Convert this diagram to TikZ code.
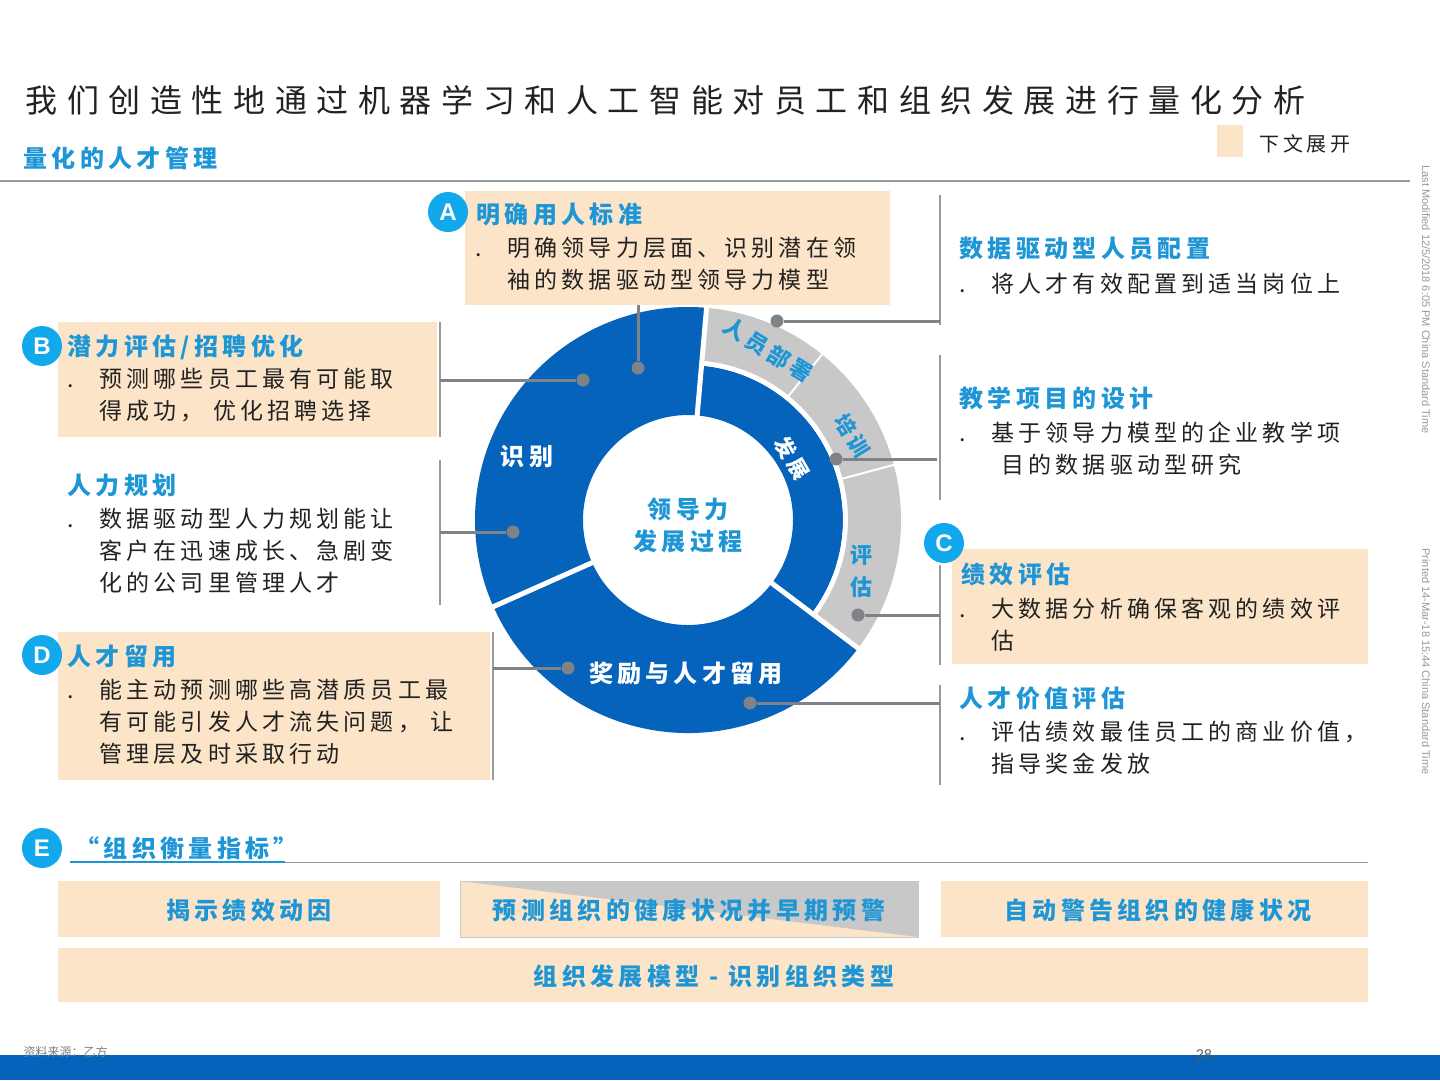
\documentclass[tikz,border=0pt]{standalone}
\usepackage{fontspec}
\setmainfont{Liberation Sans}
\newfontfamily\cjk[LetterSpace=18]{Noto Sans CJK SC}
\newfontfamily\cjkt[LetterSpace=30]{Noto Sans CJK SC}
\newfontfamily\cjkn{Noto Sans CJK SC}
\newcommand{\bul}{\makebox[32pt][l]{.}}
\newcommand{\ind}{\hspace*{32pt}}
\begin{document}
\begin{tikzpicture}[x=1pt,y=-1pt,
  hdr/.style={anchor=west,text=headc,font=\cjk\fontsize{24}{28}\selectfont\bfseries},
  body/.style={anchor=north west,align=left,text=bodyc,font=\cjk\fontsize{23}{32}\selectfont},
  badge/.style={circle,fill=badgec,text=white,minimum size=40pt,inner sep=0pt,font=\bfseries\fontsize{24}{24}\selectfont},
  bar/.style={draw=barc,line width=1.5pt},
  conn/.style={draw=linec,line width=3pt},
  pt/.style={circle,fill=linec,minimum size=13pt,inner sep=0pt},
  btxt/.style={text=headc,font=\cjk\fontsize{24}{28}\selectfont\bfseries}]
\definecolor{peachc}{HTML}{FCE4C8}
\definecolor{headc}{HTML}{1E96D6}
\definecolor{bodyc}{HTML}{222222}
\definecolor{badgec}{HTML}{12A8EC}
\definecolor{barc}{HTML}{9A9A9A}
\definecolor{linec}{HTML}{7F8287}
\definecolor{ringb}{HTML}{0563BB}
\definecolor{ringg}{HTML}{C8C8C8}
\useasboundingbox (0,0) rectangle (1440,1080);
\fill[white] (0,0) rectangle (1440,1080);
% title
\node[anchor=west,text=bodyc,font=\cjkt\fontsize{32}{36}\selectfont] (title) at (22,100) {我们创造性地通过机器学习和人工智能对员工和组织发展进行量化分析};
\node[anchor=west,text=headc,font=\cjk\fontsize{24}{28}\selectfont\bfseries] (sub) at (20,158) {量化的人才管理};
\fill[peachc] (1217,125) rectangle (1243,157);
\node[anchor=west,text=bodyc,font=\cjk\fontsize{20}{24}\selectfont] (leg) at (1256,144) {下文展开};
\draw[barc,line width=1.2pt] (0,181) -- (1410,181);
% side texts
\node[rotate=-90,anchor=west,text=gray!80,font=\fontsize{11}{12}\selectfont] (lm) at (1426,162) {Last Modified 12/5/2018 6:05 PM China Standard Time};
\node[rotate=-90,anchor=west,text=gray!80,font=\fontsize{11}{12}\selectfont] (pr) at (1426,545) {Printed 14-Mar-18 15:44 China Standard Time};
% ring
\begin{scope}[shift={(688,520)},y=1pt]
 \fill[ringb] (85:213) arc[start angle=85,end angle=204,radius=213] -- (204:105) arc[start angle=204,end angle=85,radius=105] -- cycle;
 \fill[ringb] (204:213) arc[start angle=204,end angle=323,radius=213] -- (323:105) arc[start angle=323,end angle=204,radius=105] -- cycle;
 \fill[ringb] (-37:155) arc[start angle=-37,end angle=85,radius=155] -- (85:105) arc[start angle=85,end angle=-37,radius=105] -- cycle;
 \fill[ringg] (-37:213) arc[start angle=-37,end angle=85,radius=213] -- (85:160) arc[start angle=85,end angle=-37,radius=160] -- cycle;
 \draw[white,line width=5pt] (85:100) -- (85:220);
 \draw[white,line width=5pt] (204:100) -- (204:220);
 \draw[white,line width=5pt] (-37:100) -- (-37:220);
 \draw[white,line width=4pt] (-37:157) arc[start angle=-37,end angle=85,radius=157];
 \draw[white,line width=2pt] (51:158) -- (51:215);
 \draw[white,line width=2pt] (15:158) -- (15:215);
\end{scope}
\node[text=white,font=\cjk\fontsize{24}{28}\selectfont\bfseries] (shib) at (527,457) {识别};
\node[align=center,text=headc,font=\cjk\fontsize{24}{32}\selectfont\bfseries] (core) at (688,525) {领导力\\发展过程};
\node[rotate=-60,text=white,font=\cjk\fontsize{21}{26}\selectfont\bfseries] (fz) at (792,458) {发展};
\node[rotate=-32,text=headc,inner sep=0pt,font=\cjk\fontsize{22}{26}\selectfont\bfseries] (ry) at (768,350) {人员部署};
\node[rotate=-58,text=headc,inner sep=0pt,font=\cjk\fontsize{21}{26}\selectfont\bfseries] (px) at (852,436) {培训};
\node[align=center,text=headc,font=\cjkn\fontsize{22}{32}\selectfont\bfseries] (pg) at (861,571) {评\\估};
\node[text=white,font=\cjk\fontsize{24}{28}\selectfont\bfseries] (jl) at (686,673) {奖励与人才留用};
% A
\fill[peachc] (465,191) rectangle (890,305);
\node[badge] (bA) at (448,212) {A};
\node[hdr] (hA) at (473,214) {明确用人标准};
\node[body] (tA) at (472,234) {\bul 明确领导力层面、识别潜在领\\\ind 袖的数据驱动型领导力模型};
% B
\fill[peachc] (58,322) rectangle (437,437);
\node[badge] (bB) at (42,346) {B};
\node[hdr] (hB) at (64,347) {潜力评估/招聘优化};
\node[body] (tB) at (64,365) {\bul 预测哪些员工最有可能取\\\ind 得成功，\ 优化招聘选择};
% HR planning
\node[hdr] (hH) at (64,485) {人力规划};
\node[body] (tH) at (64,505) {\bul 数据驱动型人力规划能让\\\ind 客户在迅速成长、急剧变\\\ind 化的公司里管理人才};
% D
\fill[peachc] (58,632) rectangle (490,780);
\node[badge] (bD) at (42,655) {D};
\node[hdr] (hD) at (64,656) {人才留用};
\node[body] (tD) at (64,676) {\bul 能主动预测哪些高潜质员工最\\\ind 有可能引发人才流失问题，\ 让\\\ind 管理层及时采取行动};
% right
\node[hdr] (hR1) at (956,249) {数据驱动型人员配置};
\node[body] (tR1) at (956,269) {\bul 将人才有效配置到适当岗位上};
\node[hdr] (hR2) at (956,398) {教学项目的设计};
\node[body] (tR2) at (956,418) {\bul 基于领导力模型的企业教学项\\\ind\hspace*{10pt}目的数据驱动型研究};
\fill[peachc] (952,549) rectangle (1368,664);
\node[badge] (bC) at (944,543) {C};
\node[hdr] (hC) at (958,574) {绩效评估};
\node[body] (tC) at (956,594) {\bul 大数据分析确保客观的绩效评\\\ind 估};
\node[hdr] (hR4) at (956,698) {人才价值评估};
\node[body] (tR4) at (956,718) {\bul 评估绩效最佳员工的商业价值，\\\ind 指导奖金发放};
% connectors
\coordinate (cA) at (638,305); \node[pt] (dA) at (638,368) {}; \draw[conn] (cA) -- (dA);
\draw[bar] (440,322) -- (440,437); \coordinate (cB) at (440,380); \node[pt] (dB) at (583,380) {}; \draw[conn] (cB) -- (dB);
\draw[bar] (440,460) -- (440,605); \coordinate (cH) at (440,532); \node[pt] (dH) at (513,532) {}; \draw[conn] (cH) -- (dH);
\draw[bar] (493,632) -- (493,780); \coordinate (cD) at (493,668); \node[pt] (dD) at (568,668) {}; \draw[conn] (cD) -- (dD);
\draw[bar] (940,195) -- (940,325); \coordinate (cR1) at (940,321); \node[pt] (dR1) at (777,321) {}; \draw[conn] (cR1) -- (dR1);
\draw[bar] (940,355) -- (940,500); \coordinate (cR2) at (937,459); \node[pt] (dR2) at (836,459) {}; \draw[conn] (cR2) -- (dR2);
\draw[bar] (940,565) -- (940,665); \coordinate (cR3) at (940,615); \node[pt] (dR3) at (858,615) {}; \draw[conn] (cR3) -- (dR3);
\draw[bar] (940,685) -- (940,785); \coordinate (cR4) at (940,703); \node[pt] (dR4) at (750,703) {}; \draw[conn] (cR4) -- (dR4);
% E
\node[badge] (bE) at (42,848) {E};
\node[hdr] (hE) at (72,848) {“组织衡量指标”};
\draw[barc,line width=1pt] (70,862) -- (1368,862);
\draw[headc,line width=2pt] (70,862) -- (285,862);
\fill[peachc] (58,881) rectangle (440,937);
\node[btxt] (e1) at (249,910) {揭示绩效动因};
\fill[peachc] (460,881) rectangle (918,937);
\fill[ringg] (460,881) -- (918,881) -- (918,937) -- cycle;
\draw[ringg,line width=1pt] (460,881) rectangle (918,937);
\node[btxt] (e2) at (689,910) {预测组织的健康状况并早期预警};
\fill[peachc] (941,881) rectangle (1368,937);
\node[btxt] (e3) at (1158,910) {自动警告组织的健康状况};
\fill[peachc] (58,948) rectangle (1368,1002);
\node[btxt] (e4) at (714,976) {组织发展模型 - 识别组织类型};
% footer
\fill[ringb] (0,1055) rectangle (1440,1080);
\node[anchor=west,text=gray,font=\cjkn\fontsize{12}{14}\selectfont] (src) at (20,1052) {资料来源：乙方};
\node[text=gray!70!black,font=\fontsize{14}{16}\selectfont] (pg28) at (1204,1055) {28};
\end{tikzpicture}
\end{document}
